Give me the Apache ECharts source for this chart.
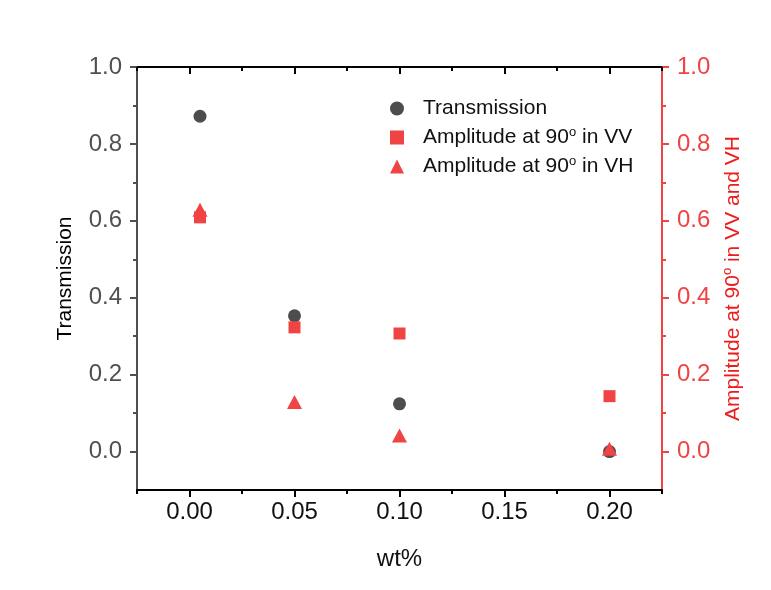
<!DOCTYPE html>
<html lang="en">
<head>
    <meta charset="UTF-8">
    <title>Transmission vs wt%</title>
    <script src="https://cdn.jsdelivr.net/npm/echarts@6/dist/echarts.min.js"></script>
    <style>
        body { margin: 0; background: #fff; }
        #main { width: 771px; height: 590px; }
    </style>
</head>
<body>
    <div id="main"></div>
    <script>
        // 数据
        var wt = [0.005, 0.05, 0.1, 0.2];
        var transmission = [0.872, 0.353, 0.124, 0.0];
        var ampVV = [0.609, 0.323, 0.307, 0.144];
        var ampVH = [0.629, 0.129, 0.042, 0.007];

        // 刻度
        var xTicks = [0, 0.05, 0.1, 0.15, 0.2];
        var xMinor = [-0.025, 0.025, 0.075, 0.125, 0.175, 0.225];
        var yTicks = [0, 0.2, 0.4, 0.6, 0.8, 1.0];
        var yMinor = [0.1, 0.3, 0.5, 0.7, 0.9];

        var grey = '#505050';
        var red = '#f04343';
        var font = 'Liberation Sans';

        function pairs(ys) {
            return wt.map(function (x, i) { return [x, ys[i]]; });
        }

        var supStyle = { fontSize: 13, padding: [0, 0, 10, 0], fontFamily: font };

        function xAxisOf(pos, ticks, len, inside, labels, line) {
            return {
                type: 'value', position: pos, min: -0.025, max: 0.225,
                axisLine: { show: line, onZero: false, lineStyle: { color: '#000', width: 2 } },
                axisTick: { show: true, customValues: ticks, length: len, inside: inside, lineStyle: { color: '#000', width: 2 } },
                axisLabel: labels ? {
                    customValues: xTicks, fontSize: 24, color: '#111', fontFamily: font, margin: 10,
                    formatter: function (v) { return v.toFixed(2); }
                } : { show: false },
                splitLine: { show: false }
            };
        }

        function yAxisOf(pos, color, labelColor, ticks, len, labels, line) {
            return {
                type: 'value', position: pos, min: -0.1, max: 1.0,
                axisLine: { show: line, onZero: false, lineStyle: { color: color, width: 2 } },
                axisTick: { show: true, customValues: ticks, length: len, lineStyle: { color: color, width: 2 } },
                axisLabel: labels ? {
                    customValues: yTicks, fontSize: 24, color: labelColor, fontFamily: font, margin: 15,
                    formatter: function (v) { return v.toFixed(1); }
                } : { show: false },
                splitLine: { show: false }
            };
        }

        var myChart = echarts.init(document.getElementById('main'));

        var xAxes = [
            xAxisOf('bottom', xTicks, 7, false, true, true),
            xAxisOf('bottom', xMinor, 4, false, false, false),
            xAxisOf('top', xTicks, 7, true, false, true),
            xAxisOf('top', xMinor, 4, true, false, false)
        ];
        xAxes[0].name = 'wt%';
        xAxes[0].nameLocation = 'middle';
        xAxes[0].nameGap = 57;
        xAxes[0].nameTextStyle = { fontSize: 24, color: '#111', fontFamily: font };

        var yAxes = [
            yAxisOf('left', grey, grey, yTicks, 7, true, true),
            yAxisOf('left', grey, grey, yMinor, 4, false, false),
            yAxisOf('right', red, red, yTicks, 7, true, true),
            yAxisOf('right', red, red, yMinor, 4, false, false)
        ];
        yAxes[0].name = 'Transmission';
        yAxes[0].nameLocation = 'middle';
        yAxes[0].nameGap = 61;
        yAxes[0].nameTextStyle = { fontSize: 21, color: '#000', fontFamily: font };
        yAxes[2].name = 'Amplitude at 90{sup|o} in VV and VH';
        yAxes[2].nameLocation = 'middle';
        yAxes[2].nameGap = 55;
        yAxes[2].nameTextStyle = {
            fontSize: 21, color: '#ee1c1c', fontFamily: font,
            rich: { sup: Object.assign({ color: '#ee1c1c' }, supStyle) }
        };

        var option = {
            backgroundColor: '#fff',
            animation: false,
            grid: { left: 137, right: 109, top: 67, bottom: 100 },
            legend: {
                orient: 'vertical', left: 385, top: 92,
                itemWidth: 14, itemHeight: 14, itemGap: 6,
                textStyle: {
                    fontSize: 21, color: '#111', fontFamily: font, lineHeight: 23,
                    padding: [0, 0, 0, 14],
                    rich: { sup: Object.assign({ color: '#111' }, supStyle) }
                },
                formatter: function (name) { return name.replace('°', '{sup|o}'); },
                data: [
                    { name: 'Transmission', icon: 'circle' },
                    { name: 'Amplitude at 90° in VV', icon: 'rect' },
                    { name: 'Amplitude at 90° in VH', icon: 'triangle' }
                ]
            },
            xAxis: xAxes,
            yAxis: yAxes,
            series: [
                {
                    name: 'Transmission', type: 'scatter', xAxisIndex: 0, yAxisIndex: 0,
                    symbol: 'circle', symbolSize: 13,
                    itemStyle: { color: '#4d4d4d', opacity: 1 },
                    data: pairs(transmission)
                },
                {
                    name: 'Amplitude at 90° in VV', type: 'scatter', xAxisIndex: 0, yAxisIndex: 2,
                    symbol: 'rect', symbolSize: 12,
                    itemStyle: { color: red, opacity: 1 },
                    data: pairs(ampVV)
                },
                {
                    name: 'Amplitude at 90° in VH', type: 'scatter', xAxisIndex: 0, yAxisIndex: 2,
                    symbol: 'triangle', symbolSize: [15, 14],
                    itemStyle: { color: red, opacity: 1 },
                    data: pairs(ampVH)
                }
            ]
        };

        myChart.setOption(option);
    </script>
</body>
</html>
